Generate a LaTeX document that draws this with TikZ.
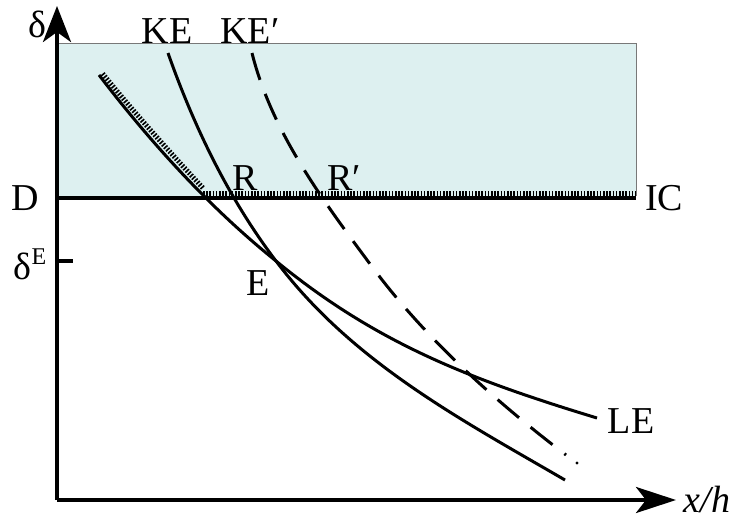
\documentclass[tikz,border=0pt]{standalone}
\usepackage{fontspec}
\setmainfont{Liberation Serif}
\usetikzlibrary{arrows.meta}
\definecolor{regionfill}{RGB}{221,240,240}
\definecolor{edgegray}{RGB}{120,120,120}
\tikzset{
  axisline/.style={line width=4pt},
  curveline/.style={line width=3pt},
  hatchline/.style={line width=5pt, dash pattern=on 1.6pt off 1.6pt},
  lbl/.style={font=\fontsize{38}{40}\selectfont, inner sep=0pt},
}
\begin{document}
\begin{tikzpicture}[x=1pt,y=-1pt]
\useasboundingbox (0,0) rectangle (737,520);
% shaded region
\fill[regionfill] (57,43) rectangle (636,197);
\draw[edgegray, line width=1pt] (57,43) -- (636,43) -- (636,196);
% axes
\coordinate (O) at (57,500);
\coordinate (ytip) at (57,6);
\coordinate (xtip) at (676,500);
\draw[axisline,-{Stealth[length=36pt,width=28pt,inset=10pt]}] (O) -- (ytip);
\draw[axisline,-{Stealth[length=40pt,width=26pt,inset=10pt]}] (O) -- (xtip);
% D--IC line
\coordinate (Dl) at (55,198);
\coordinate (Dr) at (636,198);
\draw[axisline] (Dl) -- (Dr);
\coordinate (Hl) at (203,193);
\coordinate (Hr) at (636,193);
\draw[hatchline] (Hl) -- (Hr);
% delta^E tick
\coordinate (t1) at (57,261);
\coordinate (t2) at (73,261);
\draw[axisline] (t1) -- (t2);
% key points
\coordinate (LEs) at (99,75);
\coordinate (Ept) at (276,261);
\coordinate (LEe) at (597,418);
\coordinate (KEs) at (168,53);
\coordinate (KEe) at (565,480);
\coordinate (KPs) at (252,53);
\coordinate (KPm) at (373,268);
\coordinate (KPe) at (566,455);
% LE curve
\draw[curveline] (LEs) .. controls (151,143) and (210,208) .. (Ept)
                 .. controls (377,344) and (472,380) .. (LEe);
% hatching along LE upper part
\draw[hatchline, shift={(2.6,-2.3)}] (100,76) .. controls (134,118) and (175,163) .. (201,191);
% KE curve
\draw[curveline] (KEs) .. controls (193,124) and (228,198) .. (Ept)
                 .. controls (352,362) and (460,419) .. (KEe);
% KE' dashed curve
\draw[curveline, dash pattern=on 28pt off 15pt] (KPs) .. controls (272,133) and (324,202) .. (KPm)
                 .. controls (426,339) and (495,401) .. (KPe);
\fill (577,463) circle (1.6pt);
% labels
\node[lbl] (delta) at (37,24) {δ};
\node[lbl] (KE) at (167,31) {KE};
\node[lbl] (KEp) at (250,31) {KE′};
\node[lbl] (R) at (245,178) {R};
\node[lbl] (Rp) at (344,178) {R′};
\node[lbl] (D) at (25,198) {D};
\node[lbl] (IC) at (664,198) {IC};
\node[lbl] (dE) at (30,264) {δ\raisebox{0.4em}{\fontsize{24}{24}\selectfont E}};
\node[lbl] (E) at (258,283) {E};
\node[lbl] (LE) at (631,421) {LE};
\node[lbl, font=\fontsize{38}{40}\selectfont\itshape, anchor=base] (xh) at (707,512) {x/h};
\end{tikzpicture}
\end{document}
